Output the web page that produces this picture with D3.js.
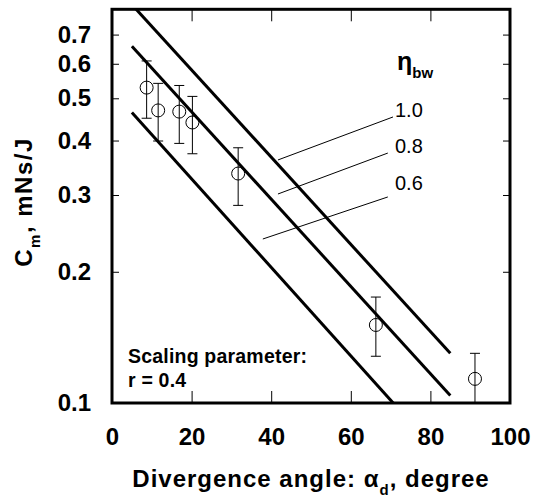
<!DOCTYPE html>
<html>
<head>
<meta charset="utf-8">
<script src="https://cdn.jsdelivr.net/npm/d3@7"></script>
<style>
body { margin: 0; background: #fff; }
text { font-family: "Liberation Sans", Arial, sans-serif; fill: #000; }
</style>
</head>
<body>
<div id="svg"></div>
<script>
// measured points (divergence angle, C_m and error bar limits)
var angle = [8.7, 11.6, 16.9, 20.2, 31.7, 66.3, 91.2];
var cm = [0.529, 0.469, 0.466, 0.440, 0.336, 0.151, 0.1136];
var cmHigh = [0.609, 0.541, 0.535, 0.505, 0.385, 0.175, 0.130];
var cmLow = [0.450, 0.399, 0.394, 0.373, 0.284, 0.128, 0.100];

// model lines for each eta_bw, straight on the log axis
var etaLabels = ["1.0", "0.8", "0.6"];
var lineAngle = [5, 85];
var lineCm = [[0.82, 0.130], [0.658, 0.104], [0.464, 0.0715]];

// leader lines for the eta labels: [x1, y1, x2, y2] in data units
var leaders = [[41.7, 0.361, 70.6, 0.453], [41.7, 0.3016, 69.3, 0.3744], [37.9, 0.2378, 69.3, 0.2969]];
var labelPos = [[71.1, 0.453], [71.1, 0.3744], [71.1, 0.308]];

var xTicks = [0, 20, 40, 60, 80, 100];
var yTicks = [0.1, 0.2, 0.3, 0.4, 0.5, 0.6, 0.7];

var widthSVG = 533;
var heightSVG = 497;
var margin = {top: 9.3, right: 23, bottom: 94, left: 112};

var svg = d3.select("#svg")
    .append("svg")
    .attr("width", widthSVG)
    .attr("height", heightSVG);

var x = d3.scaleLinear()
    .domain([0, 100])
    .range([margin.left, widthSVG - margin.right]);

var y = d3.scaleLog()
    .domain([0.1, 0.8])
    .range([heightSVG - margin.bottom, margin.top]);

svg.append("clipPath")
    .attr("id", "plot-clip")
    .append("rect")
    .attr("x", x(0))
    .attr("y", y(0.8))
    .attr("width", x(100) - x(0))
    .attr("height", y(0.1) - y(0.8));

// axes, ticks pointing inward
svg.append("g")
    .attr("class", "axis")
    .attr("transform", "translate(0," + y(0.1) + ")")
    .call(d3.axisBottom(x).tickValues(xTicks).tickSize(-12).tickPadding(25).tickFormat(d3.format("d")));

svg.append("g")
    .attr("class", "axis")
    .attr("transform", "translate(0," + y(0.8) + ")")
    .call(d3.axisTop(x).tickValues(xTicks).tickSize(-12).tickFormat(""));

svg.append("g")
    .attr("class", "axis")
    .attr("transform", "translate(" + x(0) + ",0)")
    .call(d3.axisLeft(y).tickValues(yTicks).tickSize(-7).tickPadding(21).tickFormat(d3.format(".1f")));

svg.append("g")
    .attr("class", "axis")
    .attr("transform", "translate(" + x(100) + ",0)")
    .call(d3.axisRight(y).tickValues(yTicks).tickSize(-7).tickFormat(""));

svg.selectAll(".axis .domain").remove();
svg.selectAll(".axis line").attr("stroke", "#000").attr("stroke-width", 1);
svg.selectAll(".axis text")
    .attr("font-size", 24)
    .attr("font-weight", "bold")
    .attr("font-family", "'Liberation Sans', Arial, sans-serif");

// frame
svg.append("rect")
    .attr("x", x(0))
    .attr("y", y(0.8))
    .attr("width", x(100) - x(0))
    .attr("height", y(0.1) - y(0.8))
    .attr("fill", "none")
    .attr("stroke", "#000")
    .attr("stroke-width", 3);

// model lines
var line = d3.line()
    .x(function(d) { return x(d[0]); })
    .y(function(d) { return y(d[1]); });

svg.append("g")
    .attr("clip-path", "url(#plot-clip)")
    .selectAll("path")
    .data(lineCm)
    .enter().append("path")
    .attr("d", function(d) { return line([[lineAngle[0], d[0]], [lineAngle[1], d[1]]]); })
    .attr("fill", "none")
    .attr("stroke", "#000")
    .attr("stroke-width", 3);

// leader lines and labels
svg.append("g")
    .selectAll("line")
    .data(leaders)
    .enter().append("line")
    .attr("x1", function(d) { return x(d[0]); })
    .attr("y1", function(d) { return y(d[1]); })
    .attr("x2", function(d) { return x(d[2]); })
    .attr("y2", function(d) { return y(d[3]); })
    .attr("stroke", "#000")
    .attr("stroke-width", 1);

svg.append("g")
    .selectAll("text")
    .data(etaLabels)
    .enter().append("text")
    .attr("x", function(d, i) { return x(labelPos[i][0]); })
    .attr("y", function(d, i) { return y(labelPos[i][1]); })
    .attr("font-size", 20)
    .text(function(d) { return d; });

var eta = svg.append("text")
    .attr("x", x(71.6))
    .attr("y", y(0.5805))
    .attr("font-size", 25)
    .attr("font-weight", "bold");
eta.append("tspan").text("\u03b7");
eta.append("tspan")
    .attr("font-size", 15)
    .attr("dy", 8)
    .text("bw");

// error bars and points
var pts = angle.map(function(a, i) {
    return {x: a, y: cm[i], hi: cmHigh[i], lo: cmLow[i]};
});

var bars = svg.append("g")
    .attr("stroke", "#000")
    .attr("stroke-width", 1)
    .selectAll("g")
    .data(pts)
    .enter().append("g");

bars.append("line")
    .attr("x1", function(d) { return x(d.x); })
    .attr("x2", function(d) { return x(d.x); })
    .attr("y1", function(d) { return y(d.hi); })
    .attr("y2", function(d) { return y(d.lo); });

bars.append("line")
    .attr("x1", function(d) { return x(d.x) - 5; })
    .attr("x2", function(d) { return x(d.x) + 5; })
    .attr("y1", function(d) { return y(d.hi); })
    .attr("y2", function(d) { return y(d.hi); });

bars.append("line")
    .attr("x1", function(d) { return x(d.x) - 5; })
    .attr("x2", function(d) { return x(d.x) + 5; })
    .attr("y1", function(d) { return y(d.lo); })
    .attr("y2", function(d) { return y(d.lo); });

bars.append("circle")
    .attr("cx", function(d) { return x(d.x); })
    .attr("cy", function(d) { return y(d.y); })
    .attr("r", 6.5)
    .attr("fill", "none");

// scaling note
svg.append("text")
    .attr("x", x(0) + 16)
    .attr("y", y(0.1) - 40)
    .attr("font-size", 19.5)
    .attr("font-weight", "bold")
    .attr("letter-spacing", 0.2)
    .text("Scaling parameter:");
svg.append("text")
    .attr("x", x(0) + 16)
    .attr("y", y(0.1) - 16)
    .attr("font-size", 19.5)
    .attr("font-weight", "bold")
    .attr("letter-spacing", 0.2)
    .text("r = 0.4");

// axis titles
var xTitle = svg.append("text")
    .attr("x", (x(0) + x(100)) / 2)
    .attr("y", 487)
    .attr("text-anchor", "middle")
    .attr("font-size", 24)
    .attr("font-weight", "bold")
    .attr("letter-spacing", 1);
xTitle.append("tspan").text("Divergence angle: \u03b1");
xTitle.append("tspan").attr("font-size", 15).attr("dy", 8).text("d");
xTitle.append("tspan").attr("dy", -8).text(", degree");

var yTitle = svg.append("text")
    .attr("transform", "translate(32," + 202 + ") rotate(-90)")
    .attr("text-anchor", "middle")
    .attr("font-size", 24)
    .attr("font-weight", "bold")
    .attr("letter-spacing", 1.5);
yTitle.append("tspan").text("C");
yTitle.append("tspan").attr("font-size", 15).attr("dy", 8).text("m");
yTitle.append("tspan").attr("dy", -8).text(", mNs/J");
</script>
</body>
</html>
